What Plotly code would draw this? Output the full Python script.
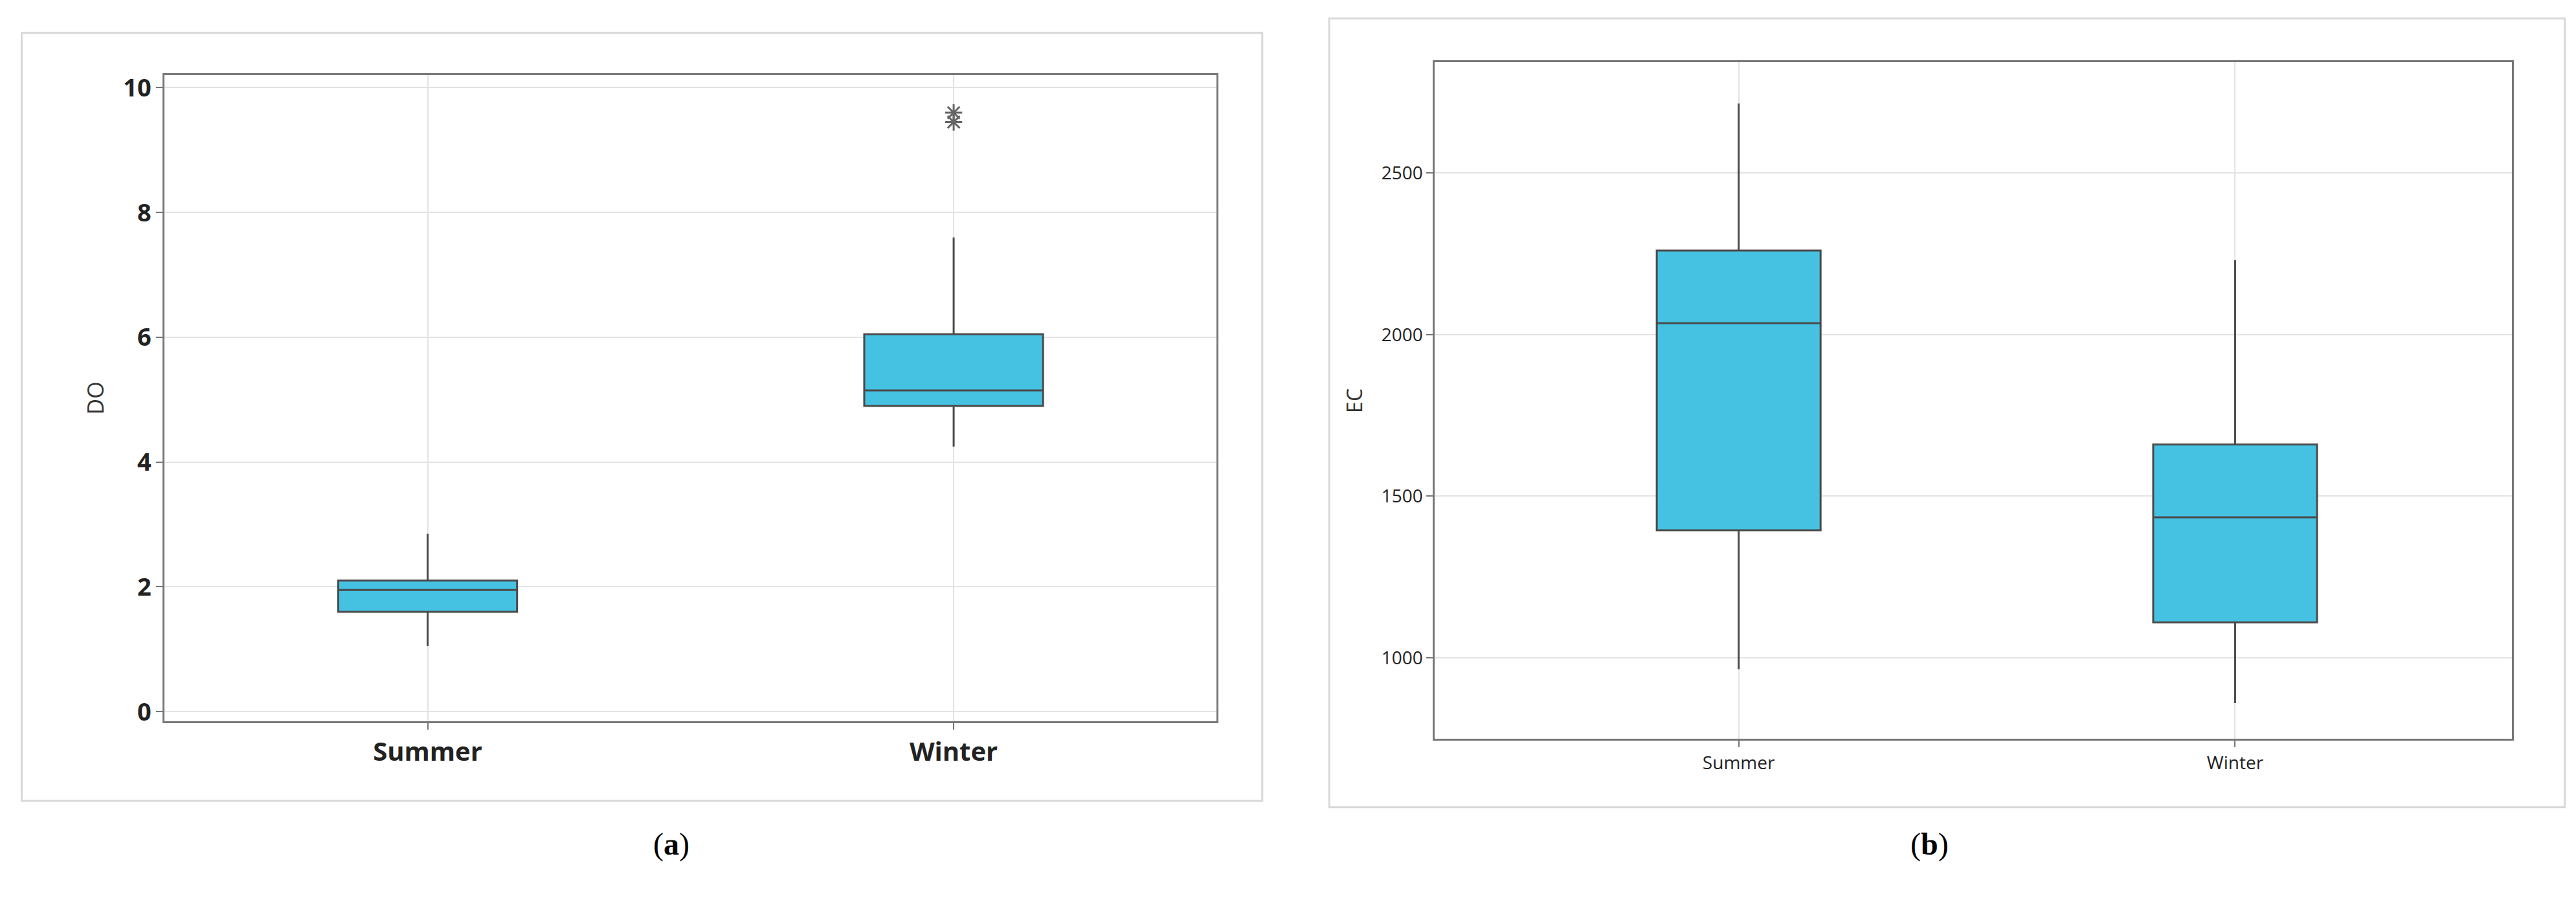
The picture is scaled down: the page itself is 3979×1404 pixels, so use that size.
import plotly.graph_objects as go

cats = ["Summer", "Winter"]
do_q1 = [1.6, 4.9]; do_med = [1.95, 5.15]; do_q3 = [2.1, 6.05]
do_lo = [1.05, 4.25]; do_hi = [2.85, 7.6]
do_out_x = ["Winter", "Winter"]; do_out_y = [9.45, 9.6]
ec_q1 = [1395, 1110]; ec_med = [2035, 1435]; ec_q3 = [2260, 1660]
ec_lo = [965, 860]; ec_hi = [2715, 2230]

fill = "#45C2E2"; edge = "#4a4a4a"
fig = go.Figure()
fig.add_trace(go.Box(x=cats, q1=do_q1, median=do_med, q3=do_q3, lowerfence=do_lo,
                     upperfence=do_hi, fillcolor=fill, line=dict(color=edge, width=3),
                     width=0.34, whiskerwidth=0, xaxis="x", yaxis="y", showlegend=False,
                     hoverinfo="skip"))
fig.add_trace(go.Scatter(x=do_out_x, y=do_out_y, mode="markers", xaxis="x", yaxis="y",
                         marker=dict(symbol="asterisk-open", size=22, color="#666",
                                     line=dict(width=3, color="#666")), showlegend=False))
fig.add_trace(go.Box(x=cats, q1=ec_q1, median=ec_med, q3=ec_q3, lowerfence=ec_lo,
                     upperfence=ec_hi, fillcolor=fill, line=dict(color=edge, width=3),
                     width=0.33, whiskerwidth=0, xaxis="x2", yaxis="y2", showlegend=False,
                     hoverinfo="skip"))

grid = "#e3e3e3"
common = dict(showgrid=True, gridcolor=grid, gridwidth=2, zeroline=False, showline=True,
              linecolor="#777", linewidth=3, mirror=True, ticks="outside",
              tickcolor="#777", ticklen=10, tickwidth=2)
fig.update_layout(
    width=3979, height=1404, margin=dict(l=0, r=0, t=0, b=0),
    plot_bgcolor="white", paper_bgcolor="white",
    xaxis=dict(domain=[0.0619, 0.4703], range=[-0.5, 1.5], anchor="y",
               tickfont=dict(size=40, color="#222", family="Open Sans"), **common),
    yaxis=dict(domain=[0.208, 0.9277], range=[-0.15, 10.2], anchor="x", dtick=2,
               title=dict(text="DO", font=dict(size=34, color="#333", family="Open Sans"), standoff=20),
               tickfont=dict(size=38, color="#222", family="Open Sans"), **common),
    xaxis2=dict(domain=[0.555, 0.973], range=[-0.612, 1.557], anchor="y2",
                tickfont=dict(size=28, color="#222", family="Open Sans"), **common),
    yaxis2=dict(domain=[0.188, 0.942], range=[749, 2842], anchor="x2",
                tickvals=[1000, 1500, 2000, 2500],
                title=dict(text="EC", font=dict(size=32, color="#333", family="Open Sans"), standoff=20),
                tickfont=dict(size=28, color="#222", family="Open Sans"), **common),
)
fig.layout.xaxis.tickfont.weight = "bold"
fig.layout.yaxis.tickfont.weight = "bold"
fig.add_shape(type="rect", xref="paper", yref="paper", x0=0.0064, x1=0.488, y0=0.119, y1=0.975,
              line=dict(color="#d8d8d8", width=3))
fig.add_shape(type="rect", xref="paper", yref="paper", x0=0.514, x1=0.9936, y0=0.112, y1=0.991,
              line=dict(color="#d8d8d8", width=3))
for xx, t in [(0.251, "(<b>a</b>)"), (0.755, "(<b>b</b>)")]:
    fig.add_annotation(xref="paper", yref="paper", x=xx, y=0.05, text=t, showarrow=False,
                       font=dict(size=48, family="Liberation Serif", color="black"))
fig.write_html("out.html")
